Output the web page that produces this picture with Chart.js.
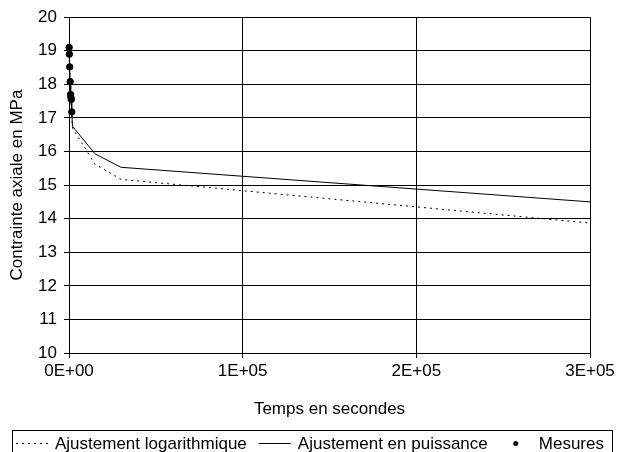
<!DOCTYPE html>
<html>
<head>
<meta charset="utf-8">
<script src="https://cdn.jsdelivr.net/npm/chart.js@4/dist/chart.umd.min.js"></script>
<style>
  html, body { margin: 0; padding: 0; background: #fff; }
  #wrap { width: 627px; height: 452px; }
</style>
</head>
<body>
<div id="wrap"><canvas id="contrainteChart" width="627" height="452"></canvas></div>
<script>
// mesures (temps en s, contrainte en MPa)
var mesureTemps = [100, 200, 400, 700, 900, 1100, 1300, 1600];
var mesureValeurs = [19.1, 18.9, 18.52, 18.08, 17.7, 17.62, 17.55, 17.18];

// ajustements
var ajustTemps = [100, 200, 400, 700, 900, 1100, 1300, 1600, 2000, 15000, 30000, 300000];
var ajustLog = [19.05, 18.85, 18.5, 18.1, 17.7, 17.55, 17.4, 17.15, 16.7, 15.62, 15.17, 13.87];
var ajustPuissance = [19.1, 18.9, 18.5, 18.1, 17.75, 17.6, 17.45, 17.2, 16.75, 15.93, 15.53, 14.5];

var xTicks = [0, 100000, 200000, 300000];
var yTicks = [10, 11, 12, 13, 14, 15, 16, 17, 18, 19, 20];

var labels = ["Ajustement logarithmique", "Ajustement en puissance", "Mesures"];

var FONT = "'Liberation Sans', Arial, sans-serif";
var FSIZE = 17;

function points(xs, ys) {
	var out = [];
	for (var i = 0; i < xs.length; i++) {
		out.push({x: xs[i], y: ys[i]});
	}
	return out;
}

function sci(v) {
	if (v === 0) return "0E+00";
	var e = Math.floor(Math.log10(v) + 1e-9);
	var m = Math.round(v / Math.pow(10, e));
	return m + "E+" + String(e).padStart(2, "0");
}

// legende encadree sous le graphique
var boxLegend = {
	id: 'boxLegend',
	afterDraw: function(chart) {
		var ctx = chart.ctx;
		var ds = chart.data.datasets;
		var y = 443.5;
		ctx.save();
		ctx.strokeStyle = '#000';
		ctx.lineWidth = 1;
		ctx.setLineDash([]);
		ctx.strokeRect(12.5, 430.5, 600, 40);
		ctx.font = FSIZE + "px " + FONT;
		ctx.textBaseline = 'alphabetic';
		ctx.fillStyle = '#000';
		var x = 16;
		for (var i = 0; i < ds.length; i++) {
			var d = ds[i];
			if (!d.showLine) {
				ctx.beginPath();
				ctx.arc(x + 16, y, 2.5, 0, Math.PI * 2);
				ctx.fill();
			} else {
				ctx.beginPath();
				ctx.setLineDash(d.borderDash || []);
				ctx.moveTo(x, y);
				ctx.lineTo(x + 32, y);
				ctx.stroke();
				ctx.setLineDash([]);
			}
			x += 39;
			ctx.fillText(d.label, x, 448.5);
			x += ctx.measureText(d.label).width + 12;
		}
		ctx.restore();
	}
};

var chart = new Chart(document.getElementById('contrainteChart'), {
	type: 'scatter',
	data: {
		datasets: [{
			label: labels[0],
			data: points(ajustTemps, ajustLog),
			showLine: true,
			borderColor: '#000',
			borderWidth: 1,
			borderDash: [2, 4],
			pointRadius: 0,
			order: 2
		}, {
			label: labels[1],
			data: points(ajustTemps, ajustPuissance),
			showLine: true,
			borderColor: '#000',
			borderWidth: 1,
			pointRadius: 0,
			order: 1
		}, {
			label: labels[2],
			data: points(mesureTemps, mesureValeurs),
			showLine: false,
			backgroundColor: '#000',
			borderColor: '#000',
			pointRadius: 3.2,
			order: 0
		}]
	},
	options: {
		responsive: false,
		animation: false,
		clip: false,
		layout: {
			padding: {top: 15, right: 37, bottom: 32, left: 0}
		},
		plugins: {
			legend: {display: false},
			tooltip: {enabled: false}
		},
		scales: {
			x: {
				type: 'linear',
				min: 0,
				max: 300000,
				afterBuildTicks: function(axis) {
					axis.ticks = xTicks.map(function(v) { return {value: v}; });
				},
				afterFit: function(axis) { axis.height = 67; },
				ticks: {
					callback: function(v) { return sci(v); },
					color: '#000',
					font: {family: FONT, size: FSIZE},
					padding: 3,
					maxRotation: 0
				},
				grid: {color: '#000', tickLength: 5, tickColor: '#000'},
				border: {color: '#000', width: 1},
				title: {
					display: true,
					text: 'Temps en secondes',
					color: '#000',
					font: {family: FONT, size: FSIZE},
					padding: {top: 0, bottom: 0}
				}
			},
			y: {
				min: 10,
				max: 20,
				afterBuildTicks: function(axis) {
					axis.ticks = yTicks.map(function(v) { return {value: v}; });
				},
				afterFit: function(axis) { axis.width = 69; },
				ticks: {
					color: '#000',
					font: {family: FONT, size: FSIZE},
					padding: 7
				},
				grid: {color: '#000', tickLength: 5, tickColor: '#000'},
				border: {color: '#000', width: 1},
				title: {
					display: true,
					text: 'Contrainte axiale en MPa',
					color: '#000',
					font: {family: FONT, size: FSIZE},
					padding: {top: 7, bottom: 0}
				}
			}
		}
	},
	plugins: [boxLegend]
});
</script>
</body>
</html>
